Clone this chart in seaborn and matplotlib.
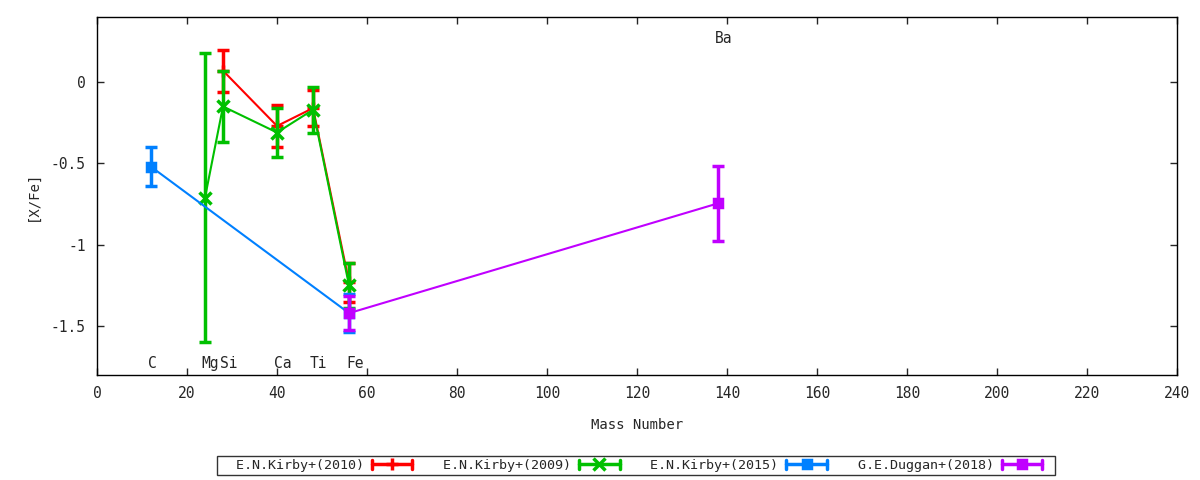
import numpy as np
import pandas as pd
import matplotlib
matplotlib.use("Agg")
import matplotlib.pyplot as plt
from matplotlib.lines import Line2D
from matplotlib.legend_handler import HandlerBase
import seaborn as sns

# 원소 질량수와 라벨
elem_names = ["C", "Mg", "Si", "Ca", "Ti", "Fe", "Ba"]
elem_mass = [12, 24, 28, 40, 48, 56, 138]
elem_label_y = [-1.73, -1.73, -1.73, -1.73, -1.73, -1.73, 0.27]

# 각 논문별 [X/Fe] 값과 오차
kirby2010_mass = [28, 40, 48, 56]
kirby2010_val = [0.07, -0.27, -0.16, -1.23]
kirby2010_err = [0.13, 0.13, 0.11, 0.12]

kirby2009_mass = [24, 28, 40, 48, 56]
kirby2009_val = [-0.71, -0.15, -0.31, -0.17, -1.25]
kirby2009_err = [0.89, 0.22, 0.15, 0.14, 0.14]

kirby2015_mass = [12, 56]
kirby2015_val = [-0.52, -1.42]
kirby2015_err = [0.12, 0.115]

duggan2018_mass = [56, 138]
duggan2018_val = [-1.42, -0.745]
duggan2018_err = [0.105, 0.23]

series_names = ["E.N.Kirby+(2010)", "E.N.Kirby+(2009)", "E.N.Kirby+(2015)", "G.E.Duggan+(2018)"]
series_colors = ["#ff0000", "#00c000", "#0080ff", "#c000ff"]
series_markers = ["+", "x", "s", "s"]

frames = []
for name, m, v, e in zip(series_names,
                         [kirby2010_mass, kirby2009_mass, kirby2015_mass, duggan2018_mass],
                         [kirby2010_val, kirby2009_val, kirby2015_val, duggan2018_val],
                         [kirby2010_err, kirby2009_err, kirby2015_err, duggan2018_err]):
    frames.append(pd.DataFrame({"mass": m, "val": v, "err": e, "src": name}))
df = pd.concat(frames, ignore_index=True)


# gnuplot 스타일 범례 샘플 (가로선 + 양끝 캡 + 가운데 마커), 오른쪽 여백 포함
class GpKey:
    def __init__(self, color, marker):
        self.color = color
        self.marker = marker


class HandlerGp(HandlerBase):
    def create_artists(self, legend, orig, xd, yd, w, h, fontsize, trans):
        y = yd + h / 2
        c = orig.color
        x0, x1 = xd, xd + w * 0.8
        arts = [Line2D([x0, x1], [y, y], color=c, lw=2.5, transform=trans)]
        for xx in (x0, x1):
            arts.append(Line2D([xx, xx], [y - 3.5, y + 3.5], color=c, lw=2.5,
                               transform=trans))
        ms = 9 if orig.marker in ("+", "x") else 6
        arts.append(Line2D([(x0 + x1) / 2], [y], color=c, marker=orig.marker, ms=ms,
                           mew=2.5, ls="none", transform=trans))
        return arts


sns.set_style("ticks")
plt.rcParams['font.family'] = ['DejaVu Sans Mono']
plt.rcParams['font.size'] = 10.5

fig = plt.figure(figsize=(12, 4.8), dpi=100)
ax = fig.add_axes([0.0808, 0.21875, 0.9003, 0.7459])

keys = []
for i, name in enumerate(series_names):
    sub = df[df["src"] == name]
    c = series_colors[i]
    mk = series_markers[i]
    ms = 9 if mk in ("+", "x") else 6
    sns.lineplot(data=sub, x="mass", y="val", color=c, lw=1.5, ax=ax,
                 sort=False, legend=False, zorder=2 + i)
    ax.errorbar(sub["mass"], sub["val"], yerr=sub["err"], fmt=mk, color=c,
                ms=ms, mew=2.5, elinewidth=2.5, capsize=4.5, capthick=2.5,
                zorder=2 + i)
    keys.append(GpKey(c, mk))

for n, m, yy in zip(elem_names, elem_mass, elem_label_y):
    ax.text(m - 0.7, yy, n, ha="left", va="center", fontsize=10.5)

ax.set_xlim(0, 240)
ax.set_ylim(-1.8, 0.4)
ax.set_xticks(np.arange(0, 241, 20))
ax.set_yticks([0, -0.5, -1, -1.5])
ax.set_yticklabels(["0", "-0.5", "-1", "-1.5"])
ax.tick_params(direction="in", top=True, right=True, length=5, width=1, pad=8)
for s in ax.spines.values():
    s.set_linewidth(1)
    s.set_color("black")
ax.set_xlabel("Mass Number", labelpad=12, fontsize=10)
ax.set_ylabel("[X/Fe]", labelpad=8, fontsize=10)

labels = ["  " + n for n in series_names]
leg = fig.legend(keys, labels, handler_map={GpKey: HandlerGp()},
                 loc="center", bbox_to_anchor=(0.53, 0.03), ncol=4,
                 markerfirst=False, frameon=True, fancybox=False,
                 handlelength=3.8, columnspacing=0.35, handletextpad=0.6,
                 borderpad=0.2, borderaxespad=0, fontsize=9.6)
leg.get_frame().set_edgecolor("black")
leg.get_frame().set_linewidth(1)

fig.savefig("out.png", dpi=100)
